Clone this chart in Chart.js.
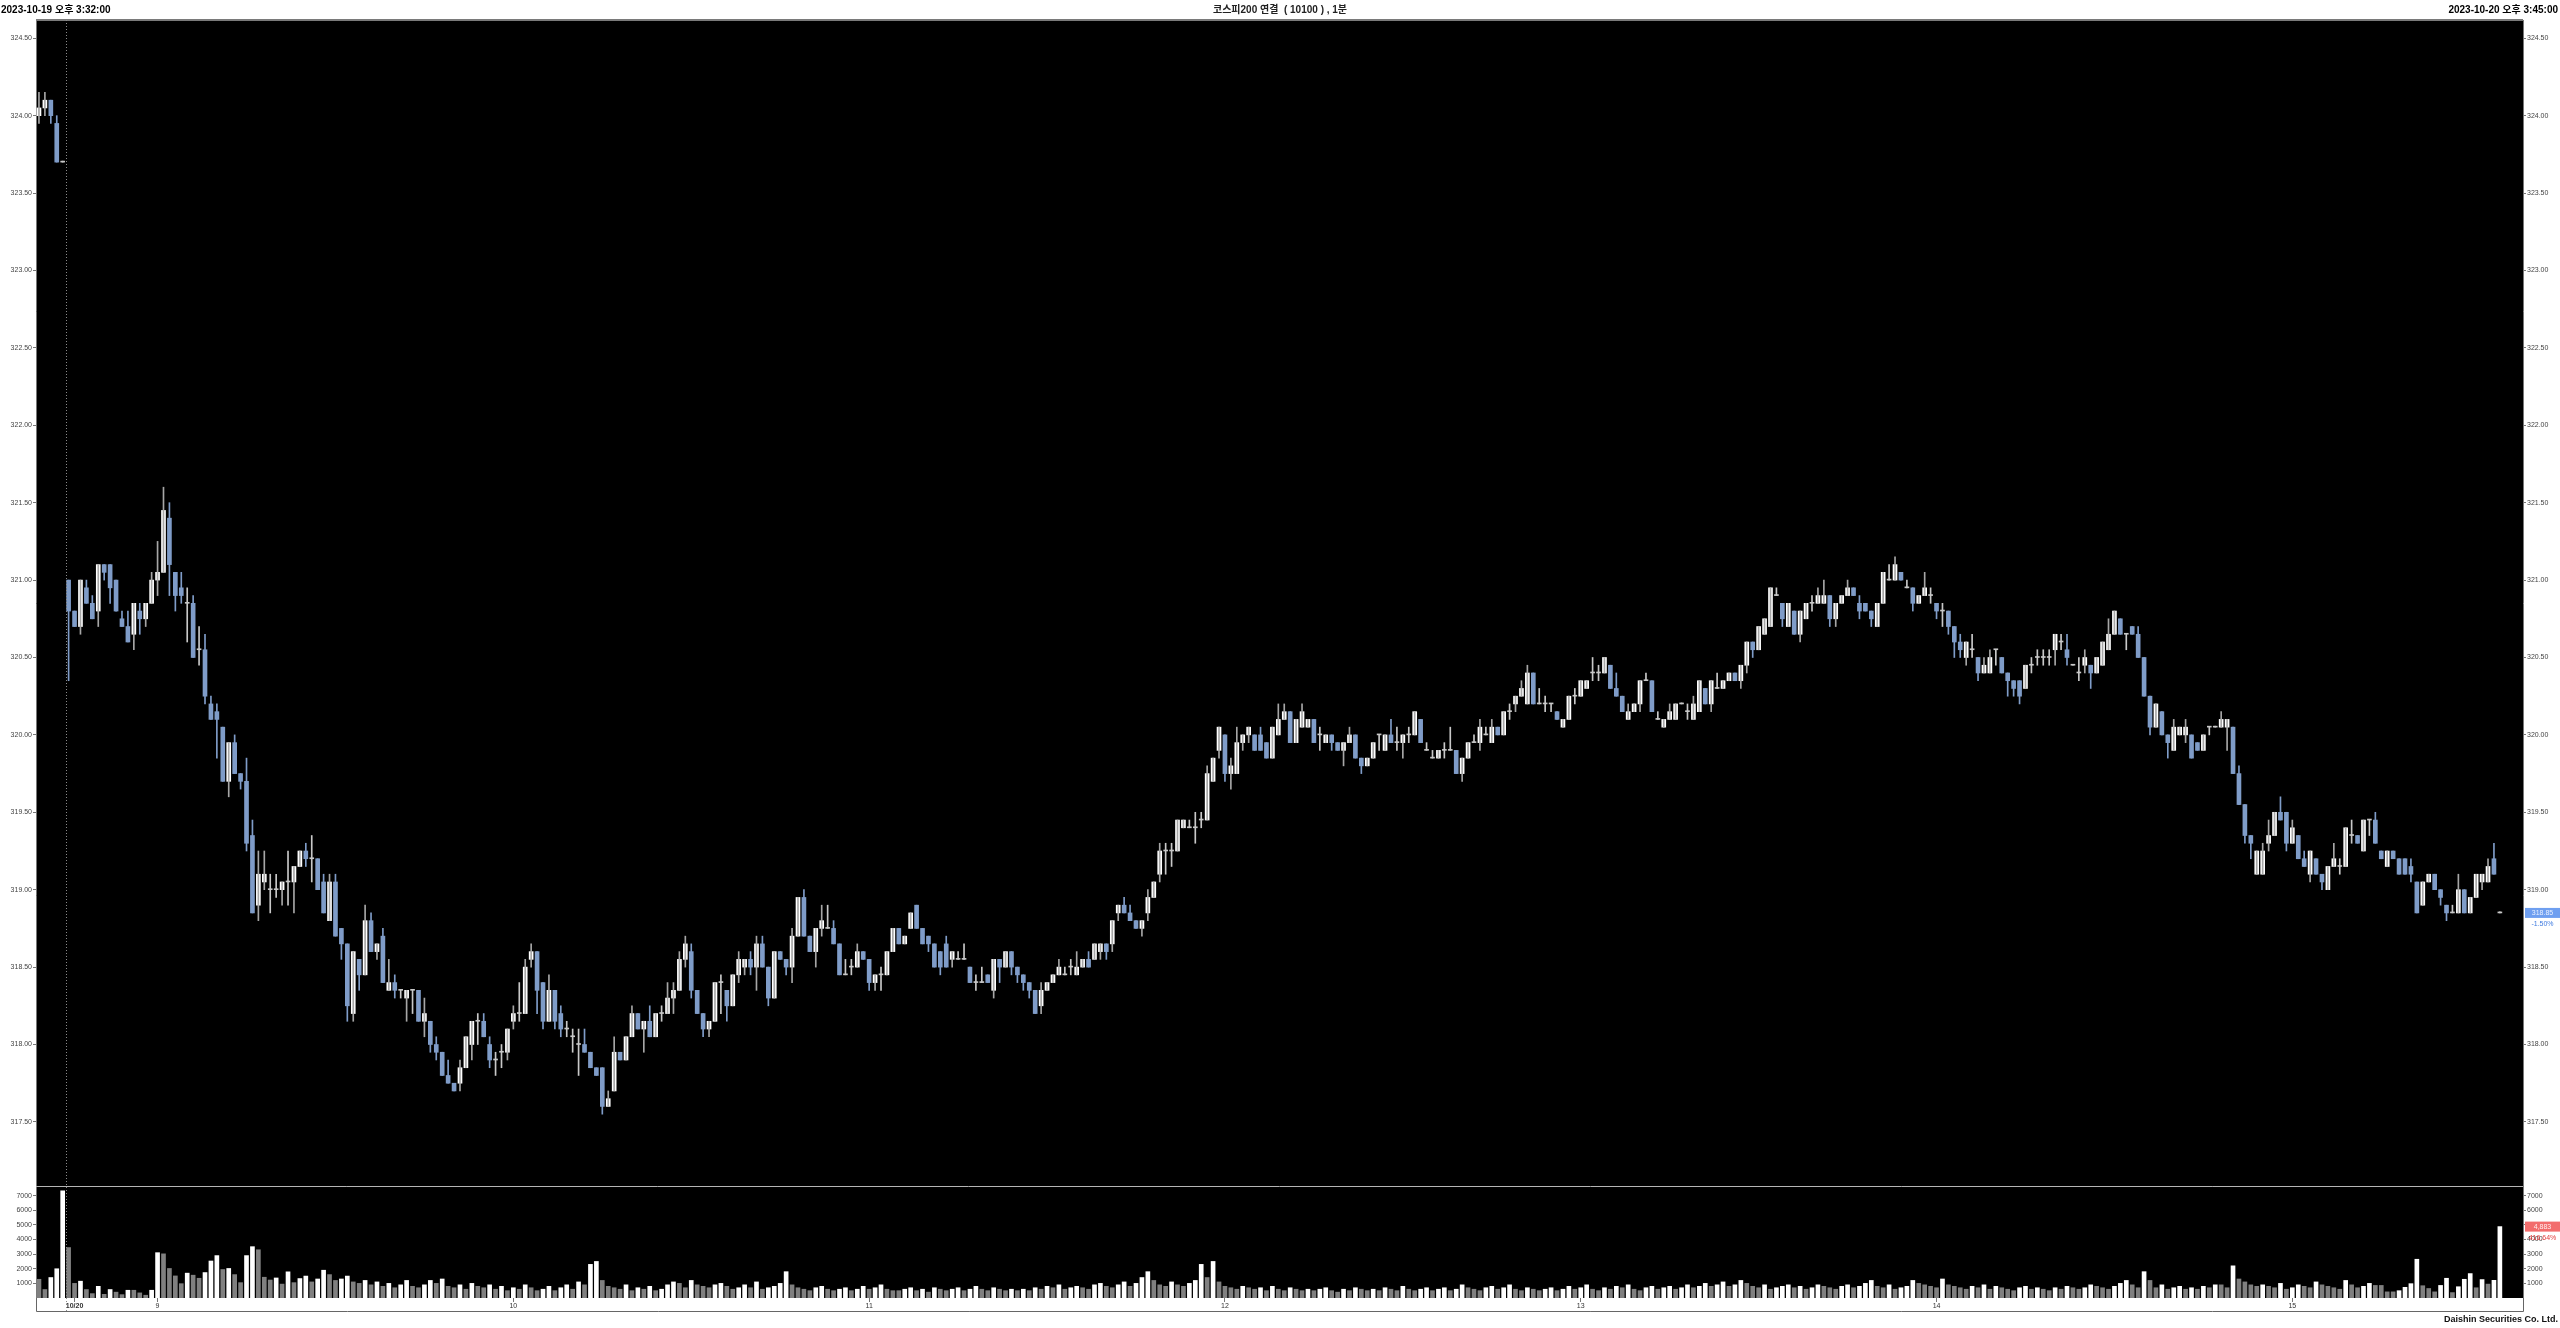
<!DOCTYPE html>
<html lang="ko">
<head>
  <meta charset="UTF-8">
  <meta name="viewport" content="width=device-width, initial-scale=1.0">
  <title>코스피200 연결 (10100), 1분</title>
  <script src="https://cdn.jsdelivr.net/npm/chart.js"></script>
  <style>
    html, body { margin: 0; padding: 0; background: #fff; }
    canvas { display: block; }
  </style>
</head>
<body>
  <canvas id="candleChart" width="2560" height="1328"></canvas>

  <script>
    const headerLeft = '2023-10-19 오후 3:32:00';
    const headerTitle = '코스피200 연결  ( 10100 ) , 1분';
    const headerRight = '2023-10-20 오후 3:45:00';
    const footerText = 'Daishin Securities Co. Ltd.';

    // 5 bars of 10/19, then 10/20 08:45 ~ 15:34 and the 15:45 close
    const opens = [
      324.00,324.05,324.10,323.95,323.70,
      321.00,320.80,320.70,320.95,320.85,320.80,321.10,321.10,321.00,320.75,320.70,320.65,320.80,320.75,320.85,321.00,321.05,321.40,321.05,320.95,
      320.85,320.85,320.55,320.55,320.20,320.15,320.05,319.70,319.95,319.75,319.70,319.35,318.90,319.05,319.00,319.00,319.00,319.05,319.05,319.15,
      319.25,319.20,319.20,319.05,318.80,319.05,318.75,318.65,318.20,318.55,318.45,318.80,318.60,318.70,318.35,318.40,318.35,318.30,318.35,318.35,
      318.15,318.15,318.00,317.95,317.80,317.75,317.75,317.85,318.00,318.15,318.15,318.00,317.90,317.95,317.95,318.15,318.20,318.20,318.55,318.60,
      318.40,318.15,318.35,318.20,318.10,318.05,318.00,318.00,317.95,317.85,317.85,317.60,317.70,317.95,317.90,318.05,318.20,318.10,318.15,318.05,
      318.20,318.20,318.30,318.35,318.55,318.60,318.35,318.20,318.10,318.15,318.40,318.35,318.25,318.45,318.50,318.55,318.50,318.65,318.50,318.30,
      318.60,318.55,318.50,318.70,318.95,318.70,318.60,318.75,318.75,318.75,318.65,318.45,318.50,318.50,318.60,318.55,318.40,318.45,318.45,318.60,
      318.75,318.65,318.75,318.90,318.75,318.70,318.65,318.60,318.65,318.55,318.55,318.55,318.50,318.40,318.40,318.45,318.35,318.55,318.50,318.60,
      318.50,318.45,318.40,318.35,318.25,318.35,318.40,318.45,318.45,318.50,318.45,318.50,318.55,318.55,318.60,318.65,318.65,318.85,318.90,318.85,
      318.80,318.75,318.85,318.95,319.10,319.25,319.25,319.25,319.40,319.40,319.40,319.45,319.45,319.70,319.90,320.00,319.75,319.75,319.95,320.00,
      320.00,320.00,319.95,319.85,320.00,320.10,320.15,319.95,320.05,320.05,320.10,320.00,319.95,320.00,319.95,319.90,319.95,320.00,319.85,319.80,
      319.85,320.00,319.90,320.00,319.95,319.95,320.00,320.00,320.10,319.90,319.85,319.85,319.90,319.90,319.90,319.75,319.85,319.95,319.95,320.00,
      319.95,320.05,320.00,320.15,320.20,320.25,320.20,320.40,320.20,320.20,320.20,320.15,320.05,320.10,320.25,320.25,320.30,320.40,320.40,320.40,
      320.45,320.30,320.25,320.10,320.15,320.20,320.35,320.35,320.10,320.05,320.10,320.10,320.20,320.15,320.10,320.15,320.30,320.20,320.30,320.30,
      320.35,320.40,320.35,320.45,320.60,320.55,320.65,320.70,320.90,320.85,320.70,320.80,320.65,320.75,320.85,320.85,320.85,320.90,320.75,320.85,
      320.90,320.95,320.85,320.85,320.80,320.70,320.85,321.00,321.00,321.05,320.95,320.95,320.85,320.90,320.90,320.85,320.80,320.80,320.70,320.60,
      320.50,320.55,320.50,320.40,320.40,320.55,320.50,320.40,320.35,320.35,320.30,320.45,320.50,320.50,320.50,320.55,320.60,320.55,320.45,320.40,
      320.45,320.45,320.40,320.45,320.55,320.65,320.75,320.65,320.70,320.65,320.50,320.25,320.05,320.15,320.00,319.90,320.00,320.00,320.00,319.95,
      319.90,320.05,320.05,320.05,320.05,320.05,319.75,319.55,319.35,319.10,319.10,319.30,319.35,319.50,319.50,319.30,319.35,319.20,319.10,319.20,
      319.10,319.00,319.15,319.15,319.15,319.35,319.35,319.25,319.45,319.45,319.25,319.15,319.25,319.20,319.20,319.15,319.05,318.90,319.05,319.10,
      319.00,318.90,318.85,318.85,319.00,318.85,318.95,319.05,319.05,319.20,318.85
    ];
    const highs = [
      324.15,324.15,324.10,324.00,323.70,
      321.00,320.80,321.00,321.00,320.90,321.10,321.10,321.10,321.00,320.80,320.80,320.85,320.85,320.85,321.05,321.25,321.60,321.50,321.05,321.05,
      320.95,320.90,320.70,320.65,320.25,320.20,320.05,319.95,320.00,319.75,319.85,319.45,319.25,319.25,319.10,319.10,319.05,319.25,319.15,319.25,
      319.30,319.35,319.20,319.10,319.10,319.10,318.75,318.65,318.60,318.55,318.90,318.85,318.65,318.75,318.55,318.45,318.35,318.35,318.35,318.35,
      318.30,318.15,318.05,317.95,317.90,317.75,317.90,318.05,318.15,318.20,318.20,318.05,317.95,318.00,318.10,318.25,318.40,318.55,318.65,318.60,
      318.40,318.45,318.35,318.25,318.15,318.10,318.10,318.10,317.95,317.85,317.85,317.70,318.05,317.95,318.05,318.25,318.20,318.15,318.25,318.20,
      318.25,318.40,318.40,318.60,318.70,318.65,318.35,318.20,318.15,318.40,318.45,318.35,318.45,318.60,318.55,318.60,318.70,318.70,318.50,318.60,
      318.60,318.55,318.75,318.95,319.00,318.70,318.75,318.90,318.90,318.80,318.65,318.55,318.55,318.65,318.60,318.55,318.45,318.50,318.60,318.75,
      318.75,318.70,318.85,318.90,318.75,318.70,318.65,318.60,318.70,318.60,318.60,318.65,318.50,318.45,318.50,318.45,318.55,318.55,318.60,318.60,
      318.50,318.45,318.40,318.35,318.40,318.40,318.45,318.55,318.50,318.55,318.60,318.55,318.60,318.65,318.65,318.65,318.80,318.90,318.95,318.90,
      318.80,318.80,319.00,319.05,319.30,319.30,319.30,319.45,319.45,319.45,319.50,319.50,319.80,319.85,320.05,320.00,319.85,320.05,320.00,320.05,
      320.00,320.05,319.95,320.05,320.20,320.20,320.15,320.10,320.20,320.10,320.10,320.05,320.00,320.00,319.95,319.95,320.05,320.00,319.85,319.85,
      319.95,320.00,320.00,320.10,320.05,320.00,320.05,320.15,320.10,319.95,319.90,319.90,319.95,320.05,319.90,319.85,319.95,320.00,320.10,320.05,
      320.10,320.05,320.15,320.20,320.25,320.35,320.45,320.40,320.30,320.25,320.20,320.15,320.10,320.25,320.30,320.35,320.35,320.50,320.45,320.50,
      320.45,320.40,320.25,320.20,320.20,320.35,320.40,320.35,320.15,320.10,320.20,320.20,320.20,320.20,320.25,320.35,320.30,320.35,320.40,320.35,
      320.40,320.40,320.45,320.60,320.60,320.70,320.75,320.95,320.95,320.85,320.85,320.80,320.80,320.85,320.90,320.95,321.00,320.90,320.85,320.90,
      321.00,320.95,320.90,320.85,320.80,320.85,321.05,321.10,321.15,321.05,321.00,320.95,320.90,321.05,320.95,320.85,320.85,320.80,320.70,320.65,
      320.60,320.65,320.50,320.50,320.55,320.55,320.50,320.40,320.35,320.35,320.45,320.50,320.55,320.55,320.55,320.65,320.65,320.65,320.45,320.50,
      320.55,320.45,320.50,320.60,320.75,320.80,320.75,320.65,320.70,320.70,320.50,320.25,320.20,320.15,320.00,320.10,320.05,320.10,320.00,319.95,
      320.00,320.05,320.05,320.15,320.10,320.05,319.80,319.55,319.35,319.25,319.30,319.45,319.50,319.60,319.50,319.45,319.35,319.25,319.25,319.20,
      319.10,319.15,319.30,319.20,319.40,319.45,319.35,319.45,319.45,319.50,319.25,319.25,319.25,319.20,319.20,319.20,319.05,319.05,319.10,319.10,
      319.00,318.90,318.90,319.10,319.00,318.95,319.10,319.10,319.20,319.30,318.85
    ];
    const lows = [
      323.95,324.00,323.95,323.70,323.70,
      320.35,320.70,320.65,320.85,320.75,320.70,321.00,320.85,320.80,320.70,320.60,320.55,320.65,320.70,320.85,320.90,321.05,320.90,320.80,320.85,
      320.60,320.50,320.45,320.20,320.10,319.85,319.70,319.60,319.75,319.65,319.25,318.85,318.80,319.00,318.85,318.95,318.90,318.90,318.85,319.15,
      319.15,319.05,319.00,318.85,318.80,318.70,318.55,318.15,318.15,318.35,318.45,318.60,318.55,318.40,318.35,318.30,318.30,318.15,318.20,318.15,
      318.05,317.95,317.90,317.80,317.75,317.70,317.70,317.85,317.90,318.00,318.05,317.85,317.80,317.85,317.90,318.10,318.15,318.20,318.50,318.20,
      318.10,318.15,318.10,318.05,318.05,317.95,317.80,317.95,317.85,317.80,317.55,317.60,317.70,317.90,317.90,318.05,318.10,317.95,318.05,318.05,
      318.15,318.20,318.20,318.35,318.50,318.30,318.20,318.05,318.05,318.15,318.20,318.15,318.25,318.40,318.45,318.45,318.35,318.50,318.25,318.30,
      318.55,318.45,318.40,318.70,318.70,318.60,318.50,318.70,318.75,318.65,318.45,318.45,318.45,318.50,318.55,318.35,318.35,318.35,318.45,318.60,
      318.65,318.65,318.75,318.75,318.65,318.60,318.50,318.45,318.50,318.50,318.55,318.55,318.40,318.35,318.40,318.40,318.30,318.40,318.50,318.45,
      318.40,318.35,318.30,318.20,318.20,318.35,318.40,318.45,318.45,318.45,318.45,318.50,318.50,318.55,318.55,318.55,318.60,318.80,318.85,318.80,
      318.75,318.70,318.80,318.95,319.05,319.10,319.15,319.25,319.40,319.40,319.30,319.40,319.45,319.70,319.85,319.70,319.65,319.75,319.90,319.95,
      319.90,319.90,319.85,319.85,320.00,320.10,319.95,319.95,320.05,320.05,319.95,319.90,319.95,319.90,319.90,319.80,319.95,319.85,319.75,319.80,
      319.85,319.90,319.90,319.95,319.90,319.85,319.95,320.00,319.95,319.90,319.85,319.85,319.85,319.90,319.75,319.70,319.85,319.95,319.90,320.00,
      319.95,320.00,320.00,320.10,320.15,320.25,320.20,320.20,320.20,320.15,320.15,320.10,320.05,320.10,320.20,320.25,320.30,320.35,320.35,320.40,
      320.30,320.25,320.15,320.10,320.15,320.15,320.35,320.15,320.10,320.05,320.10,320.10,320.20,320.10,320.10,320.15,320.20,320.15,320.30,320.30,
      320.35,320.35,320.30,320.40,320.50,320.55,320.65,320.70,320.90,320.70,320.70,320.65,320.60,320.75,320.80,320.85,320.85,320.70,320.70,320.85,
      320.90,320.90,320.75,320.80,320.70,320.70,320.85,321.00,321.00,321.00,320.95,320.80,320.85,320.90,320.85,320.75,320.70,320.65,320.50,320.50,
      320.45,320.50,320.35,320.40,320.40,320.45,320.40,320.25,320.25,320.20,320.30,320.40,320.45,320.45,320.45,320.45,320.55,320.45,320.45,320.35,
      320.40,320.30,320.40,320.45,320.55,320.65,320.65,320.55,320.65,320.50,320.25,320.00,320.05,320.00,319.85,319.90,320.00,319.95,319.85,319.90,
      319.90,320.00,320.05,320.05,319.90,319.75,319.55,319.30,319.20,319.10,319.10,319.25,319.35,319.45,319.25,319.30,319.20,319.15,319.05,319.10,
      319.00,319.00,319.15,319.10,319.15,319.30,319.30,319.25,319.35,319.30,319.20,319.15,319.20,319.10,319.10,319.05,318.85,318.90,319.05,319.00,
      318.90,318.80,318.85,318.85,318.85,318.85,318.95,319.00,319.05,319.10,318.85
    ];
    const closes = [
      324.05,324.10,324.00,323.70,323.70,
      320.80,320.70,321.00,320.85,320.75,321.10,321.05,320.95,320.80,320.70,320.60,320.85,320.75,320.85,321.00,321.05,321.45,321.10,320.90,320.90,
      320.85,320.50,320.55,320.25,320.10,320.10,319.70,319.95,319.75,319.70,319.30,318.85,319.10,319.10,319.00,319.00,319.05,319.05,319.15,319.25,
      319.20,319.20,319.00,318.85,319.05,318.70,318.65,318.25,318.60,318.45,318.80,318.60,318.65,318.40,318.40,318.35,318.35,318.35,318.35,318.15,
      318.20,318.00,317.95,317.80,317.75,317.70,317.85,318.05,318.15,318.15,318.05,317.90,317.90,317.95,318.10,318.20,318.20,318.50,318.60,318.35,
      318.15,318.35,318.15,318.10,318.10,318.05,318.00,317.95,317.85,317.80,317.60,317.65,317.95,317.90,318.05,318.20,318.10,318.15,318.05,318.20,
      318.20,318.30,318.35,318.55,318.65,318.35,318.20,318.10,318.15,318.40,318.40,318.25,318.45,318.55,318.55,318.50,318.65,318.50,318.30,318.60,
      318.55,318.50,318.70,318.95,318.70,318.60,318.75,318.80,318.75,318.65,318.45,318.45,318.50,318.60,318.55,318.40,318.45,318.45,318.60,318.75,
      318.65,318.70,318.85,318.75,318.65,318.65,318.50,318.50,318.50,318.60,318.55,318.55,318.40,318.40,318.40,318.40,318.55,318.50,318.60,318.50,
      318.45,318.40,318.35,318.20,318.35,318.40,318.45,318.50,318.45,318.50,318.50,318.55,318.50,318.65,318.65,318.60,318.80,318.90,318.85,318.80,
      318.75,318.80,318.95,319.05,319.25,319.25,319.25,319.45,319.45,319.40,319.40,319.45,319.75,319.85,320.05,319.75,319.80,319.95,320.00,320.05,
      319.90,319.90,319.85,320.05,320.10,320.15,319.95,320.10,320.15,320.10,319.95,320.00,320.00,319.95,319.90,319.95,320.00,319.85,319.80,319.85,
      319.95,320.00,320.00,319.95,319.95,320.00,320.00,320.15,319.95,319.90,319.85,319.90,319.90,319.90,319.75,319.85,319.95,319.95,320.05,320.00,
      320.05,320.00,320.15,320.15,320.25,320.30,320.40,320.20,320.20,320.20,320.20,320.10,320.10,320.25,320.25,320.35,320.35,320.40,320.40,320.50,
      320.30,320.25,320.15,320.15,320.20,320.35,320.35,320.15,320.10,320.10,320.15,320.20,320.20,320.15,320.20,320.35,320.20,320.35,320.30,320.35,
      320.40,320.35,320.45,320.60,320.55,320.70,320.75,320.95,320.90,320.75,320.85,320.65,320.80,320.85,320.85,320.90,320.90,320.75,320.85,320.90,
      320.95,320.90,320.80,320.80,320.75,320.85,321.05,321.00,321.10,321.00,320.95,320.85,320.90,320.95,320.90,320.80,320.80,320.70,320.60,320.55,
      320.60,320.55,320.40,320.45,320.50,320.55,320.40,320.35,320.30,320.25,320.45,320.45,320.50,320.50,320.50,320.65,320.60,320.50,320.45,320.40,
      320.50,320.40,320.50,320.60,320.65,320.80,320.65,320.65,320.65,320.50,320.25,320.05,320.20,320.00,319.95,320.05,320.05,320.05,319.85,319.90,
      320.00,320.05,320.05,320.10,320.10,319.75,319.55,319.35,319.30,319.25,319.25,319.35,319.50,319.45,319.30,319.40,319.20,319.15,319.25,319.10,
      319.05,319.15,319.20,319.15,319.40,319.35,319.30,319.45,319.45,319.30,319.20,319.25,319.20,319.10,319.10,319.10,318.85,319.05,319.10,319.00,
      318.95,318.85,318.85,319.00,318.85,318.95,319.10,319.10,319.15,319.10,318.85
    ];
    const volumes = [
      1280,580,1400,2000,7330,3450,1000,1150,580,300,800,250,580,400,230,530,530,350,190,530,
      3100,3020,2020,1510,980,1700,1560,1350,1740,2530,2900,1950,2020,1600,1050,2900,3510,3300,1420,1230,
      1370,950,1790,1050,1330,
      1500,1100,1300,1900,1600,1200,1300,1500,1100,1000,
      1200,900,1100,800,1000,700,900,1200,800,700,
      900,1200,1000,1300,800,700,900,600,1000,800,
      700,900,600,800,500,700,600,900,700,500,
      600,800,500,700,900,600,1100,900,2300,2500,
      1200,800,700,600,900,500,700,600,800,500,
      600,900,1100,1000,700,1200,900,800,700,900,
      1000,800,600,700,900,700,1100,600,700,800,
      1000,1800,900,700,600,500,700,800,600,500,
      600,700,500,600,800,600,700,900,600,500,
      500,600,700,500,600,400,700,600,500,600,
      700,500,600,800,600,500,700,600,500,600,
      500,600,500,700,600,800,700,900,600,700,
      800,700,600,900,1000,800,700,900,1100,800,
      1000,1400,1800,1200,900,800,1100,900,800,1000,
      1200,2300,1400,2500,1100,800,700,600,800,700,
      600,700,500,800,600,500,700,600,500,600,
      500,600,700,500,400,600,500,700,600,500,
      600,500,700,600,500,800,600,500,600,700,
      500,600,700,500,600,900,700,600,500,700,
      800,600,700,900,600,500,700,600,500,600,
      700,500,600,800,600,700,900,600,500,700,
      600,800,700,900,600,500,700,800,600,700,
      800,600,700,900,700,800,1000,800,900,1100,
      800,900,1200,1000,800,700,900,600,700,800,
      900,700,800,600,700,900,800,700,600,800,
      900,700,800,1000,1200,800,700,900,600,700,
      800,1200,1000,900,800,700,1300,900,800,700,
      600,800,700,900,600,800,700,600,500,700,
      800,600,700,600,500,700,600,800,700,600,
      700,900,800,700,600,800,1000,1200,900,700,
      1800,1200,700,900,600,700,800,600,700,600,
      800,700,900,900,700,2200,1300,1100,900,800,
      900,800,700,1000,600,700,900,800,700,1100,
      900,800,700,600,1200,900,700,800,1000,860,
      860,420,420,500,730,980,2650,840,650,420,860,1350,370,770,1280,1670,700,1260,950,1210,4883
    ];

    const xTickSlots = [6, 20, 80, 140, 200, 260, 320, 380];
    const xTickLabels = ['10/20', '9', '10', '11', '12', '13', '14', '15'];
    const priceTicks = [317.5, 318.0, 318.5, 319.0, 319.5, 320.0, 320.5, 321.0, 321.5, 322.0, 322.5, 323.0, 323.5, 324.0, 324.5];
    const volumeTicks = [1000, 2000, 3000, 4000, 5000, 6000, 7000];
    const lastPriceText = ['318.85', '-1.50%'];
    const lastVolumeText = ['4,883', '416.64%'];

    const UP = '#ffffff', UP_WICK = '#a6a6a6', DOWN = '#7f9cc8', FLAT = '#c8c8c8';
    const VOL_UP = '#ffffff', VOL_DOWN = '#808080';
    const AXIS_FONT = { family: '"Liberation Sans", Arial, sans-serif', size: 7 };

    const slots = opens.map((_, i) => i);
    const bodyColor = slots.map(i => closes[i] > opens[i] ? UP : (closes[i] < opens[i] ? DOWN : FLAT));
    const wickColor = slots.map(i => closes[i] > opens[i] ? UP_WICK : (closes[i] < opens[i] ? DOWN : FLAT));
    const volColor = slots.map(i => i > 0 && volumes[i] > volumes[i - 1] ? VOL_UP : VOL_DOWN);

    function sideAxis(pos, stackW, weight, min, max, ticks, fmt, width) {
      return {
        type: 'linear', position: pos, stack: pos, stackWeight: stackW, weight: weight,
        min: min, max: max,
        afterBuildTicks: s => { s.ticks = ticks.map(v => ({ value: v })); },
        afterFit: s => { s.width = width; },
        grid: { drawOnChartArea: false, drawTicks: true, tickLength: 3, color: '#777' },
        border: { display: true, color: '#777' },
        ticks: { callback: fmt, font: AXIS_FONT, color: '#444', padding: 1, autoSkip: false }
      };
    }
    const fmtPrice = v => v.toFixed(2);
    const fmtVol = v => String(v);

    // frame, separators, header texts and the last value tags
    const framePlugin = {
      id: 'frame',
      beforeDraw(chart) {
        const { ctx, chartArea } = chart;
        ctx.save();
        ctx.fillStyle = '#ffffff';
        ctx.fillRect(0, 0, chart.width, chart.height);
        ctx.fillStyle = '#000000';
        ctx.fillRect(chartArea.left, chartArea.top, chartArea.right - chartArea.left, chartArea.bottom - chartArea.top);
        ctx.restore();
      },
      afterDraw(chart) {
        const { ctx, chartArea, scales } = chart;
        const L = chartArea.left, R = chartArea.right;
        const lineY = chartArea.bottom + 13;
        ctx.save();
        ctx.strokeStyle = '#7a7a7a';
        ctx.lineWidth = 2;
        ctx.beginPath(); ctx.moveTo(L, chartArea.top); ctx.lineTo(R, chartArea.top); ctx.stroke();
        ctx.strokeStyle = '#b4b4b4';
        ctx.lineWidth = 1;
        const sepY = Math.round(scales.yV.top) + 0.5;
        ctx.beginPath(); ctx.moveTo(L, sepY); ctx.lineTo(R, sepY); ctx.stroke();
        ctx.strokeStyle = '#666';
        ctx.beginPath();
        ctx.moveTo(L + 0.5, chartArea.bottom); ctx.lineTo(L + 0.5, lineY + 0.5); ctx.lineTo(R + 0.5, lineY + 0.5); ctx.lineTo(R + 0.5, chartArea.bottom);
        ctx.stroke();
        // day separator between 10/19 and 10/20
        const dx = Math.round(scales.x.getPixelForValue(4.5)) + 0.5;
        ctx.strokeStyle = '#8a8a8a';
        ctx.setLineDash([1, 2]);
        ctx.beginPath(); ctx.moveTo(dx, chartArea.top); ctx.lineTo(dx, lineY); ctx.stroke();
        ctx.setLineDash([]);

        ctx.fillStyle = '#000';
        ctx.textBaseline = 'middle';
        ctx.font = 'bold 10px "Liberation Sans", "Noto Sans CJK KR", sans-serif';
        ctx.textAlign = 'left';
        ctx.fillText(headerLeft, 1, 10);
        ctx.textAlign = 'right';
        ctx.fillText(headerRight, 2558, 10);
        ctx.textAlign = 'center';
        ctx.fillStyle = '#222';
        ctx.fillText(headerTitle, 1280, 10);
        ctx.textAlign = 'right';
        ctx.fillStyle = '#111';
        ctx.font = 'bold 9px "Liberation Sans", sans-serif';
        ctx.fillText(footerText, 2558, 1320);

        // last value tags on the right axis
        const last = closes.length - 1;
        const tagX = R + 2, tagW = chart.width - tagX;
        ctx.font = '7px "Liberation Sans", sans-serif';
        ctx.textAlign = 'center';
        const py = scales.yP.getPixelForValue(closes[last]);
        ctx.fillStyle = '#6f9ff0';
        ctx.fillRect(tagX, py - 5, tagW, 10);
        ctx.fillStyle = '#eaf1ff';
        ctx.fillText(lastPriceText[0], tagX + tagW / 2, py);
        ctx.fillStyle = '#3f7be0';
        ctx.fillText(lastPriceText[1], tagX + tagW / 2, py + 11);
        const vy = scales.yV.getPixelForValue(volumes[last]);
        ctx.fillStyle = '#f26d6d';
        ctx.fillRect(tagX, vy - 5, tagW, 10);
        ctx.fillStyle = '#fff0f0';
        ctx.fillText(lastVolumeText[0], tagX + tagW / 2, vy);
        ctx.fillStyle = '#e03a3a';
        ctx.fillText(lastVolumeText[1], tagX + tagW / 2, vy + 11);
        ctx.restore();
      }
    };

    const config = {
      type: 'bar',
      data: {
        datasets: [
          {
            label: 'wick',
            data: slots.map(i => ({ x: i, y: [lows[i], highs[i]] })),
            backgroundColor: wickColor,
            barThickness: 1, minBarLength: 1, grouped: false,
            yAxisID: 'yP'
          },
          {
            label: 'body',
            data: slots.map(i => ({ x: i, y: [opens[i], closes[i]] })),
            backgroundColor: bodyColor,
            barThickness: 4, minBarLength: 1, grouped: false,
            yAxisID: 'yP'
          },
          {
            label: 'volume',
            data: slots.map(i => ({ x: i, y: volumes[i] })),
            backgroundColor: volColor,
            barThickness: 4, grouped: false,
            yAxisID: 'yV'
          }
        ]
      },
      options: {
        responsive: false,
        animation: false,
        devicePixelRatio: 1,
        layout: { padding: { top: 20, left: 0, right: 0, bottom: 0 } },
        plugins: { legend: { display: false }, tooltip: { enabled: false } },
        scales: {
          x: {
            type: 'linear', position: 'bottom', min: -0.5, max: 418.9, offset: false,
            afterBuildTicks: s => { s.ticks = xTickSlots.map(v => ({ value: v })); },
            afterFit: s => { s.height = 30; },
            grid: { offset: false, drawOnChartArea: false, drawTicks: true, tickLength: 4, color: '#777' },
            border: { display: false },
            ticks: {
              callback: v => xTickLabels[xTickSlots.indexOf(v)],
              font: c => ({ family: AXIS_FONT.family, size: 7, weight: c.index === 0 ? 'bold' : 'normal' }),
              color: '#333', padding: 0, maxRotation: 0, autoSkip: false
            }
          },
          yP: sideAxis('left', 1166, 2, 317.086, 324.618, priceTicks, fmtPrice, 36),
          yV: sideAxis('left', 112, 1, 0, 7660, volumeTicks, fmtVol, 36),
          yPR: sideAxis('right', 1166, 1, 317.086, 324.618, priceTicks, fmtPrice, 37),
          yVR: sideAxis('right', 112, 2, 0, 7660, volumeTicks, fmtVol, 37)
        }
      },
      plugins: [framePlugin]
    };

    new Chart(document.getElementById('candleChart').getContext('2d'), config);
  </script>
</body>
</html>
